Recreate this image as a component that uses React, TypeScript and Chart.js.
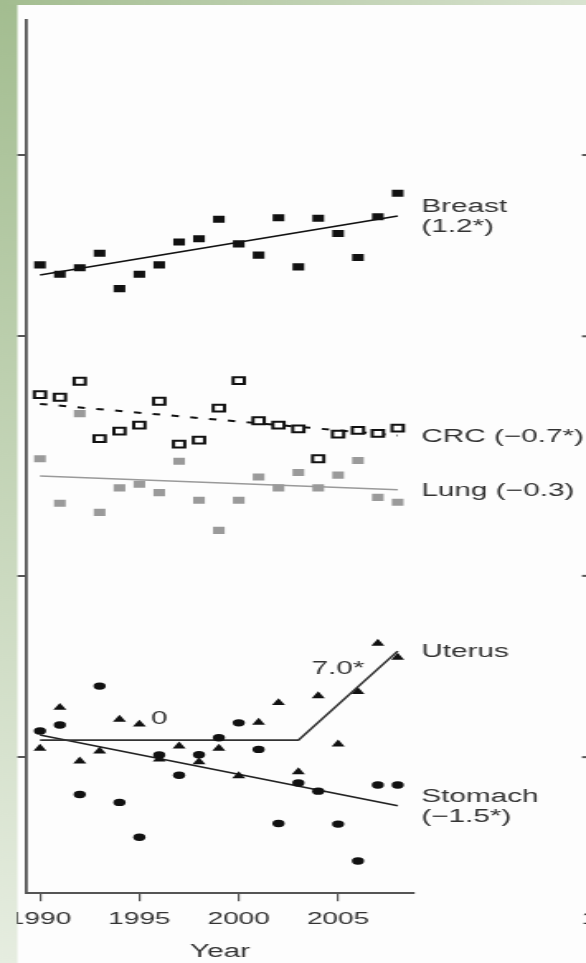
import React, { useEffect, useRef } from "react";
import { Chart, registerables } from "chart.js";

Chart.register(...registerables);

// ---------- data ----------
const years = [1990, 1991, 1992, 1993, 1994, 1995, 1996, 1997, 1998, 1999, 2000, 2001, 2002, 2003, 2004, 2005, 2006, 2007, 2008];
const breast = [65.7, 63.4, 65.0, 68.7, 60.0, 63.4, 65.7, 71.7, 72.6, 78.2, 71.2, 68.2, 78.7, 65.2, 78.5, 74.1, 67.6, 79.0, 86.4];
const crc = [40.0, 39.6, 42.1, 33.8, 34.8, 35.6, 39.0, 33.1, 33.6, 38.0, 42.2, 36.2, 35.6, 35.1, 31.3, 34.4, 34.9, 34.5, 35.2];
const lung = [31.3, 26.4, 37.2, 25.5, 28.0, 28.4, 27.5, 31.0, 26.7, 23.8, 26.7, 29.2, 28.0, 29.7, 28.0, 29.4, 31.1, 27.0, 26.5];
const uterus = [10.34, 12.09, 9.85, 10.23, 11.55, 11.34, 9.92, 10.43, 9.82, 10.34, 9.31, 11.42, 12.31, 9.45, 12.64, 10.51, 12.84, 15.45, 14.64];
const stomach = [11.05, 11.31, 8.67, 13.12, 8.41, 7.36, 10.08, 9.33, 10.09, 10.77, 11.40, 10.30, 7.76, 9.06, 8.78, 7.74, 6.72, 8.99, 8.99];

const fitYears = [1990, 2008];
const breastFit = [63.2, 79.2];
const crcFit = [38.6, 34.2];
const lungFit = [29.3, 27.8];
const stomachFit = [10.88, 8.30];
const uterusFitYears = [1990, 2003, 2008];
const uterusFit = [10.67, 10.67, 15.0];

const endLabels = [["Breast", "(1.2*)"], ["CRC (\u22120.7*)"], ["Lung (\u22120.3)"], ["Uterus"], ["Stomach", "(\u22121.5*)"]];
const segLabels = ["0", "7.0*"];
const segLabelYears = [1996, 2005];

const xTicks = [1990, 1995, 2000, 2005];
const yTicks = [10, 20, 50, 100];
const nextPanelFirstTick = "1990";
const xTitle = "Year";

// ---------- layout constants ----------
const W = 355;
const H = 963;
const STRETCH = 586 / W;
const FONT = '"Liberation Sans", Arial, Helvetica, sans-serif';

const pts = (vals: number[], xs: number[] = years) => vals.map((v, i) => ({ x: xs[i], y: v }));

function drawFrame(ctx: CanvasRenderingContext2D) {
  const left = 17 / STRETCH;
  const g1 = ctx.createLinearGradient(0, 0, 0, H);
  g1.addColorStop(0, "#a3bd90");
  g1.addColorStop(1, "#e6ede0");
  ctx.fillStyle = g1;
  ctx.fillRect(0, 0, left, H);
  const g2 = ctx.createLinearGradient(0, 0, W, 0);
  g2.addColorStop(0, "#a3bd90");
  g2.addColorStop(1, "#d9e3d0");
  ctx.fillStyle = g2;
  ctx.fillRect(0, 0, W, 5);
}

const decorPlugin = {
  id: "decor",
  beforeDraw(chart: any) {
    const ctx = chart.ctx as CanvasRenderingContext2D;
    ctx.save();
    ctx.fillStyle = "#fdfdfd";
    ctx.fillRect(0, 0, W, H);
    drawFrame(ctx);
    ctx.restore();
  },
  afterDraw(chart: any) {
    const ctx = chart.ctx as CanvasRenderingContext2D;
    const xs = chart.scales.x;
    const ys = chart.scales.y;
    ctx.save();
    ctx.fillStyle = "#333";
    ctx.font = `18px ${FONT}`;
    ctx.textAlign = "left";
    ctx.textBaseline = "middle";
    const fits = [breastFit, crcFit, lungFit, uterusFit, stomachFit];
    const lx = xs.getPixelForValue(2008) + 14.4;
    endLabels.forEach((lines, i) => {
      const f = fits[i];
      const yc = ys.getPixelForValue(f[f.length - 1]) + 1;
      lines.forEach((t, j) => {
        ctx.fillText(t, lx, yc + (j - (lines.length - 1) / 2) * 20.5);
      });
    });
    // joinpoint segment labels
    const offs = [-21, -36];
    ctx.textAlign = "center";
    segLabels.forEach((t, i) => {
      const yr = segLabelYears[i];
      let k = 0;
      while (k < uterusFitYears.length - 2 && yr > uterusFitYears[k + 1]) k++;
      const x0 = uterusFitYears[k], x1 = uterusFitYears[k + 1];
      const p0 = ys.getPixelForValue(uterusFit[k]), p1 = ys.getPixelForValue(uterusFit[k + 1]);
      const py = p0 + ((yr - x0) / (x1 - x0)) * (p1 - p0);
      ctx.fillText(t, xs.getPixelForValue(yr), py + offs[i]);
    });
    // next panel (cut off at right edge)
    ctx.strokeStyle = "#555";
    ctx.lineWidth = 2;
    yTicks.forEach((v) => {
      const py = ys.getPixelForValue(v);
      ctx.beginPath();
      ctx.moveTo(582 / STRETCH, py);
      ctx.lineTo(W, py);
      ctx.stroke();
    });
    ctx.font = `17px ${FONT}`;
    ctx.textAlign = "left";
    ctx.fillText(nextPanelFirstTick, 581.5 / STRETCH, xs.top + 8 + 7.8 + 10.2);
    drawFrame(ctx);
    ctx.restore();
  },
};

export default function App() {
  const ref = useRef<HTMLCanvasElement | null>(null);
  useEffect(() => {
    if (!ref.current) return;
    const pointSet = (data: any, style: any, radius: number, bg: string, border: string, bw: number) => ({
      data,
      pointStyle: style,
      pointRadius: radius,
      pointBackgroundColor: bg,
      pointBorderColor: border,
      pointBorderWidth: bw,
      showLine: false,
      order: 1,
    });
    const lineSet = (data: any, color: string, width: number, dash: number[] = []) => ({
      data,
      showLine: true,
      pointRadius: 0,
      borderColor: color,
      borderWidth: width,
      borderDash: dash,
      fill: false,
      order: 2,
    });
    const chart = new Chart(ref.current, {
      type: "scatter",
      data: {
        datasets: [
          pointSet(pts(breast), "rect", 5, "#111", "#111", 0),
          pointSet(pts(crc), "rect", 4.8, "#ffffff", "#111", 2),
          pointSet(pts(lung), "rect", 5, "#9a9a9a", "#9a9a9a", 0),
          pointSet(pts(uterus), "triangle", 4.6, "#111", "#111", 0),
          pointSet(pts(stomach), "circle", 3.7, "#111", "#111", 0),
          lineSet(pts(breastFit, fitYears), "#111", 1.6),
          lineSet(pts(crcFit, fitYears), "#111", 2, [4.5, 7]),
          lineSet(pts(lungFit, fitYears), "#9a9a9a", 1.6),
          lineSet(pts(uterusFit, uterusFitYears), "#333", 1.6),
          lineSet(pts(stomachFit, fitYears), "#222", 1.6),
        ] as any,
      },
      options: {
        animation: false,
        responsive: true,
        maintainAspectRatio: false,
        events: [],
        layout: { padding: { left: 10.4, top: 20, right: W - 413 / STRETCH, bottom: 0 } },
        plugins: { legend: { display: false }, tooltip: { enabled: false } },
        scales: {
          x: {
            type: "linear",
            min: 1989.35,
            max: 2008.77,
            afterBuildTicks: (s: any) => {
              s.ticks = xTicks.map((v) => ({ value: v }));
            },
            afterFit: (s: any) => {
              s.paddingLeft = 0;
              s.paddingRight = 0;
            },
            ticks: {
              autoSkip: false,
              maxRotation: 0,
              padding: 7.8,
              color: "#333",
              font: { family: FONT, size: 17 },
              callback: (v: any) => String(v),
            },
            grid: { drawOnChartArea: false, drawTicks: true, tickLength: 8, color: "#555", lineWidth: 1.2 },
            border: { display: true, color: "#555", width: 2 },
            title: { display: true, text: xTitle, color: "#333", font: { family: FONT, size: 18 }, padding: { top: 4.2, bottom: 0 } },
          },
          y: {
            type: "logarithmic",
            min: 5.943,
            max: 167.6,
            afterBuildTicks: (s: any) => {
              s.ticks = yTicks.map((v) => ({ value: v }));
            },
            ticks: { display: false },
            grid: { drawOnChartArea: false, drawTicks: true, tickLength: 6, color: "#555", lineWidth: 2 },
            border: { display: true, color: "#555", width: 1.8 },
          },
        },
      } as any,
      plugins: [decorPlugin],
    });
    return () => chart.destroy();
  }, []);

  return (
    <div
      style={{
        position: "absolute",
        left: 0,
        top: 0,
        width: W,
        height: H,
        transform: `scaleX(${STRETCH})`,
        transformOrigin: "0 0",
      }}
    >
      <canvas ref={ref} />
    </div>
  );
}
